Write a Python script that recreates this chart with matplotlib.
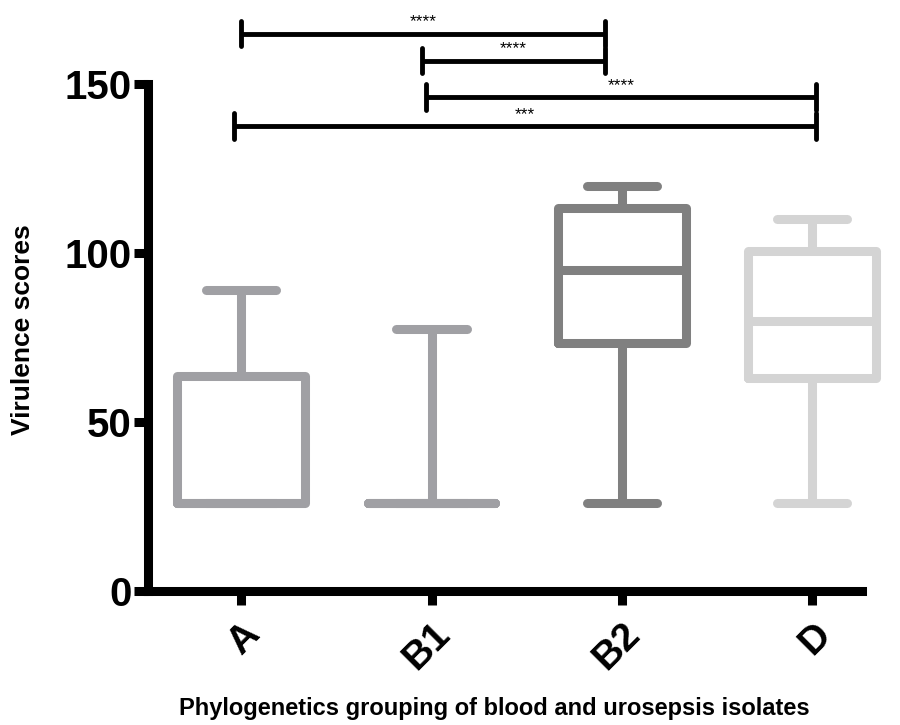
import matplotlib
matplotlib.use("Agg")
import matplotlib.pyplot as plt

categories = ["A", "B1", "B2", "D"]
whislo = [26, 26, 26, 26]
q1 = [26, 26, 73.5, 63]
med = [26, 26, 95, 80]
q3 = [63.5, 26, 113.5, 100.5]
whishi = [89, 77.5, 120, 110]
box_colors = ["#a0a0a4", "#a0a0a4", "#808080", "#d4d4d4"]

# significance brackets: (x_start, x_end, y, label)
sig_x0 = [0.0, 0.95, 0.97, -0.04]
sig_x1 = [1.91, 1.91, 3.02, 3.02]
sig_y = [165, 157, 146.3, 137.6]
sig_labels = ["****", "****", "****", "***"]

plt.rcParams['font.family'] = ['Liberation Sans', 'DejaVu Sans']

fig = plt.figure(figsize=(9, 7.25), dpi=100)
ax = fig.add_axes([0.1644, 0.1848, 0.793, 0.699])

stats = []
for i, c in enumerate(categories):
    stats.append(dict(label=c, whislo=whislo[i], q1=q1[i], med=med[i],
                      q3=q3[i], whishi=whishi[i], fliers=[]))

positions = list(range(len(categories)))
bp = ax.bxp(stats, positions=positions, widths=0.67, showfliers=False,
            patch_artist=False, capwidths=0.37)
lw = 6.5
for i in range(len(categories)):
    col = box_colors[i]
    b = bp['boxes'][i]
    b.set_color(col); b.set_linewidth(lw); b.set_solid_joinstyle('round'); b.set_solid_capstyle('round')
    b.set_clip_on(False)
    m = bp['medians'][i]
    m.set_color(col); m.set_linewidth(lw); m.set_clip_on(False)
    for art in bp['whiskers'][2*i:2*i+2] + bp['caps'][2*i:2*i+2]:
        art.set_color(col); art.set_linewidth(lw); art.set_solid_capstyle('round')
        art.set_clip_on(False)

ax.set_xlim(-0.49, 3.26)
ax.set_ylim(0, 150)
ax.set_yticks([0, 50, 100, 150])
ax.set_xticks(positions)
ax.set_xticklabels(categories, rotation=45, ha='right', rotation_mode='anchor')

for side in ['top', 'right']:
    ax.spines[side].set_visible(False)
for side in ['left', 'bottom']:
    ax.spines[side].set_linewidth(6.5)
    ax.spines[side].set_capstyle('projecting')
ax.tick_params(axis='both', width=6.5, length=10)
ax.tick_params(axis='y', pad=2, labelsize=29)
ax.tick_params(axis='x', pad=8, labelsize=28)
for lab in ax.get_xticklabels() + ax.get_yticklabels():
    lab.set_fontweight('bold')

ax.set_ylabel("Virulence scores", fontsize=19, fontweight='bold', va='center')
ax.yaxis.set_label_coords(23 / 900, 1 - 330 / 725, transform=fig.transFigure)
ax.set_xlabel("Phylogenetics grouping of blood and urosepsis isolates",
              fontsize=17, fontweight='bold', va='baseline')
ax.xaxis.set_label_coords(494 / 900, 1 - 715 / 725, transform=fig.transFigure)

for x0, x1, y, lab in zip(sig_x0, sig_x1, sig_y, sig_labels):
    ax.plot([x0, x1], [y, y], color='black', lw=3.5, clip_on=False, solid_capstyle='butt')
    for xx in (x0, x1):
        ax.plot([xx, xx], [y - 3.8, y + 3.8], color='black', lw=3.5, clip_on=False,
                solid_capstyle='round')
    ax.text((x0 + x1) / 2, y + 1.2, lab, ha='center', va='bottom', fontsize=12.5,
            clip_on=False)

fig.savefig("out.png", dpi=100)
